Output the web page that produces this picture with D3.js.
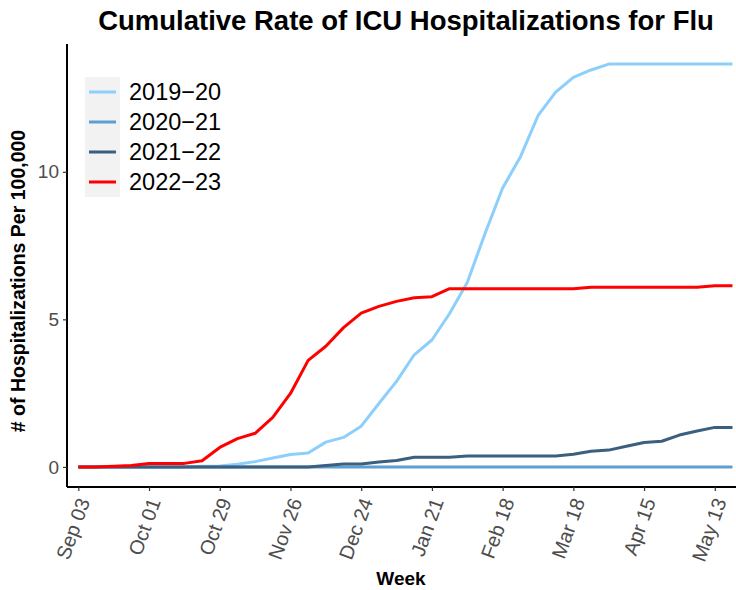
<!DOCTYPE html>
<html><head><meta charset="utf-8">
<script src="https://cdn.jsdelivr.net/npm/d3@7"></script>
<style>body{margin:0;background:#fff}svg{display:block}text{font-family:"Liberation Sans",Arial,sans-serif}</style>
</head><body><svg id="c" width="736" height="590"></svg>
<script>
const weeks = d3.range(38); // weekly index from Sep 03
const tickWeeks = [0,4,8,12,16,20,24,28,32,36];
const tickLabels = ["Sep 03","Oct 01","Oct 29","Nov 26","Dec 24","Jan 21","Feb 18","Mar 18","Apr 15","May 13"];
const seasons = ["2019\u221220","2020\u221221","2021\u221222","2022\u221223"];
const colors = ["#8dcffc","#5f9ed1","#3a5f7f","#ff0000"];
const s2019 = [0,0,0,0,0,0,0,0.02,0.03,0.09,0.18,0.3,0.42,0.47,0.84,1.0,1.38,2.15,2.9,3.8,4.3,5.2,6.25,7.9,9.45,10.5,11.9,12.7,13.2,13.45,13.65,13.65,13.65,13.65,13.65,13.65,13.65,13.65];
const s2020 = [0,0,0,0,0,0,0,0,0,0,0,0,0,0,0,0,0,0,0,0,0,0,0,0,0,0,0,0,0,0,0,0,0,0,0,0,0,0];
const s2021 = [0,0,0,0,0,0,0,0,0,0,0,0,0,0,0.05,0.1,0.1,0.17,0.22,0.33,0.33,0.33,0.37,0.37,0.37,0.37,0.37,0.37,0.43,0.53,0.57,0.7,0.83,0.87,1.08,1.22,1.34,1.34];
const s2022 = [0,0,0.02,0.05,0.12,0.12,0.12,0.21,0.66,0.96,1.14,1.68,2.49,3.61,4.09,4.72,5.21,5.44,5.61,5.73,5.77,6.04,6.04,6.04,6.04,6.04,6.04,6.04,6.04,6.09,6.09,6.09,6.09,6.09,6.09,6.09,6.14,6.14];
const series = [s2019,s2020,s2021,s2022];
const yTicks = [0,5,10];

const svg = d3.select("#c");
const L=67,R=736,T=44,B=487;
const x = d3.scaleLinear().domain([-0.64,37.2]).range([L,R]);
const y = d3.scaleLinear().domain([-0.68,14.33]).range([B,T]);

// title
svg.append("text").attr("x",406).attr("y",30).attr("text-anchor","middle")
  .attr("font-weight","bold").attr("font-size",27.5).text("Cumulative Rate of ICU Hospitalizations for Flu");

// lines
const line = d3.line().x((d,i)=>x(weeks[i])).y(d=>y(d));
series.forEach((s,k)=>{
  svg.append("path").datum(s).attr("d",line).attr("fill","none")
    .attr("stroke",colors[k]).attr("stroke-width",3).attr("stroke-linejoin","round");
});
// axes
const yAxis = svg.append("g").attr("transform",`translate(${L},0)`)
  .call(d3.axisLeft(y).tickValues(yTicks).tickSize(4).tickPadding(4).tickFormat(d3.format("d")));
yAxis.select(".domain").attr("d",`M0,${T}V${B}`).attr("stroke","#000").attr("stroke-width",2);
yAxis.selectAll(".tick line").attr("stroke","#333").attr("stroke-width",1.2);
yAxis.selectAll(".tick text").attr("fill","#4d4d4d").attr("font-size",19).attr("font-family","Liberation Sans, Arial, sans-serif");

const xAxis = svg.append("g").attr("transform",`translate(0,${B})`)
  .call(d3.axisBottom(x).tickValues(tickWeeks).tickSize(4).tickFormat((d,i)=>tickLabels[i]));
xAxis.select(".domain").attr("d",`M${L},0H${R}`).attr("stroke","#000").attr("stroke-width",2);
xAxis.selectAll(".tick line").attr("stroke","#333").attr("stroke-width",1.2);
xAxis.selectAll(".tick text").attr("fill","#4d4d4d").attr("font-size",20)
  .attr("font-family","Liberation Sans, Arial, sans-serif")
  .attr("text-anchor","end").attr("dy","0.35em").attr("y",0)
  .attr("transform","translate(5,12) rotate(-70)");

// axis titles
svg.append("text").attr("x",401).attr("y",585).attr("text-anchor","middle")
  .attr("font-weight","bold").attr("font-size",19).text("Week");
svg.append("text").attr("transform","translate(25,281) rotate(-90)").attr("text-anchor","middle")
  .attr("font-weight","bold").attr("font-size",19.5).text("# of Hospitalizations Per 100,000");

// legend
const lg = svg.append("g");
lg.append("rect").attr("x",85).attr("y",77).attr("width",35).attr("height",120).attr("fill","#f2f2f2");
seasons.forEach((s,k)=>{
  const yy = 92 + k*30;
  lg.append("line").attr("x1",89).attr("x2",116).attr("y1",yy).attr("y2",yy)
    .attr("stroke",colors[k]).attr("stroke-width",3);
  lg.append("text").attr("x",129).attr("y",yy).attr("dy","0.36em").attr("font-size",23.5).text(s);
});
</script></body></html>
